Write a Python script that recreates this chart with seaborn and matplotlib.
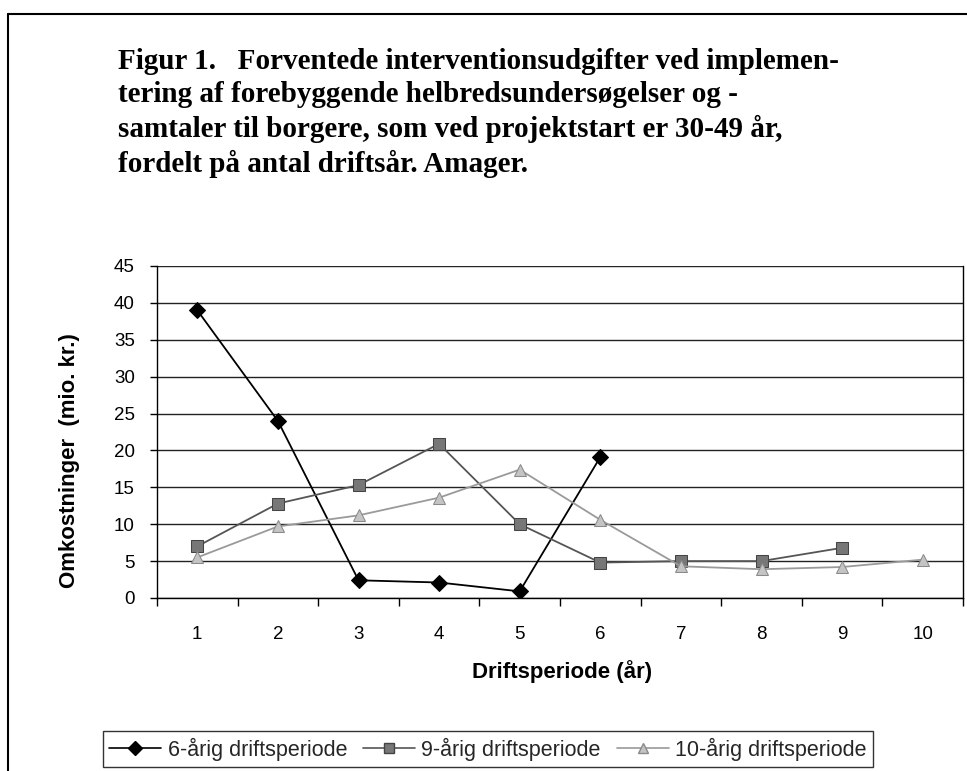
import matplotlib
matplotlib.use("Agg")
import matplotlib.pyplot as plt
from matplotlib.lines import Line2D
import seaborn as sns
import pandas as pd
import numpy as np

# ---- data ----
years = [1, 2, 3, 4, 5, 6, 7, 8, 9, 10]
series_names = ["6-årig driftsperiode", "9-årig driftsperiode", "10-årig driftsperiode"]
vals_6 = [39.0, 24.0, 2.4, 2.1, 0.9, 19.1]
vals_9 = [7.0, 12.8, 15.3, 20.9, 10.0, 4.8, 5.0, 5.0, 6.8]
vals_10 = [5.5, 9.7, 11.2, 13.6, 17.4, 10.6, 4.3, 3.9, 4.2, 5.2]
yticks = [0, 5, 10, 15, 20, 25, 30, 35, 40, 45]
title = ("Figur 1.   Forventede interventionsudgifter ved implemen-\n"
         "tering af forebyggende helbredsundersøgelser og -\n"
         "samtaler til borgere, som ved projektstart er 30-49 år,\n"
         "fordelt på antal driftsår. Amager.")
ylabel = "Omkostninger  (mio. kr.)"
xlabel = "Driftsperiode (år)"

sns.set_theme(style="white")
plt.rcParams["font.family"] = ["Liberation Sans", "DejaVu Sans"]

W, H = 967, 771
fig = plt.figure(figsize=(W / 100, H / 100), dpi=100)
ax = fig.add_axes([157 / W, 1 - 598 / H, (963 - 157) / W, (598 - 266) / H])

styles = [
    dict(color="black", marker="D", ms=8.5, mfc="black", mec="black", lw=1.3),
    dict(color="#555555", marker="s", ms=8.5, mfc="#777777", mec="#444444", lw=1.3),
    dict(color="#9a9a9a", marker="^", ms=8.5, mfc="#c4c4c4", mec="#8a8a8a", lw=1.3),
]
all_vals = [vals_6, vals_9, vals_10]
for name, vals, st in zip(series_names, all_vals, styles):
    d = pd.DataFrame({"år": years[:len(vals)], "v": vals})
    sns.lineplot(data=d, x="år", y="v", ax=ax, color=st["color"], marker=st["marker"],
                 markersize=st["ms"], markerfacecolor=st["mfc"], markeredgecolor=st["mec"],
                 linewidth=st["lw"], label=name, legend=False, zorder=3)

ax.set_xlim(0.5, 10.5)
ax.set_ylim(0, 45)
ax.set_yticks(yticks)
ax.set_yticklabels([str(t) for t in yticks], fontsize=13.5)
ax.set_xticks(years)
ax.set_xticklabels([str(y) for y in years], fontsize=13.5)
ax.set_xticks(np.arange(0.5, 11, 1), minor=True)
ax.tick_params(axis="x", which="major", length=0, pad=20, colors="black")
ax.tick_params(axis="x", which="minor", length=6, width=1, direction="out", color="black", bottom=True)
ax.tick_params(axis="y", which="major", length=5, width=1, direction="out", color="black", left=True, pad=11, colors="black")
ax.grid(axis="y", color="#222222", linewidth=1)
ax.set_axisbelow(True)
for s in ["left", "bottom", "right", "top"]:
    ax.spines[s].set_visible(True)
    ax.spines[s].set_color("black")
    ax.spines[s].set_linewidth(1)
ax.spines["top"].set_visible(False)
ax.set_facecolor("white")

ax.set_ylabel(ylabel, fontsize=16, fontweight="bold", color="black")
ax.yaxis.set_label_coords(-(157 - 70) / (963 - 157), (598 - 461) / (598 - 266))
ax.set_xlabel(xlabel, fontsize=16, fontweight="bold", color="black")
ax.xaxis.set_label_coords((562 - 157) / (963 - 157), -(672 - 598) / (598 - 266))
ax.xaxis.label.set_va("center")
ax.yaxis.label.set_va("center")

fig.text(118 / W, 1 - 48 / H, title, fontsize=21, fontweight="bold",
         family=["Liberation Serif", "DejaVu Serif"], va="top", ha="left",
         linespacing=1.30, color="black")

handles = [Line2D([0], [0], color=st["color"], marker=st["marker"], ms=st["ms"] - 1.5,
                  mfc=st["mfc"], mec=st["mec"], lw=1.2) for st in styles]
leg = fig.legend(handles, series_names, loc="center", bbox_to_anchor=(488 / W, 1 - 749 / H),
                 ncol=3, fontsize=15.5, frameon=True, fancybox=False, edgecolor="black",
                 handlelength=2.4, handletextpad=0.3, columnspacing=0.75, borderpad=0.3)
leg.get_frame().set_linewidth(1)

# chart area border (top and left)
fig.add_artist(Line2D([8 / W, 1], [1 - 14 / H, 1 - 14 / H], color="black", lw=1.5, transform=fig.transFigure))
fig.add_artist(Line2D([8 / W, 8 / W], [0, 1 - 14 / H], color="black", lw=1.5, transform=fig.transFigure))

fig.savefig("out.png", dpi=100, facecolor="white")
